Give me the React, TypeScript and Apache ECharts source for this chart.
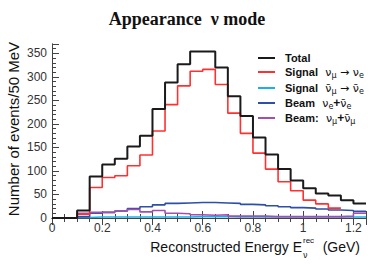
import React, { useEffect, useRef } from "react";
import * as echarts from "echarts";

// Left edges of the 50 MeV bins (GeV); the last bin ends at 1.25
const binLeftEdges = [0, 0.05, 0.1, 0.15, 0.2, 0.25, 0.3, 0.35, 0.4, 0.45, 0.5, 0.55, 0.6, 0.65, 0.7, 0.75, 0.8, 0.85, 0.9, 0.95, 1.0, 1.05, 1.1, 1.15, 1.2];
const lastEdge = 1.25;

const totalValues = [0, 0, 16, 88, 114, 126, 152, 175, 232, 288, 327, 354, 354, 320, 259, 217, 171, 135, 104, 80, 63, 52, 48, 38, 31];
const signalNuValues = [0, 0, 8, 65, 86, 90, 111, 134, 185, 241, 281, 312, 316, 284, 223, 180, 138, 104, 77, 58, 38, 30, 21];
const signalNuBarValues = [null, null, 1, 2, 2, 2, 2, 2, 2, 2, 2, 3, 3, 3, 2, 2, 2, 2, 2, 2, 2, 2, 2, 2, 2];
const beamNueValues = [0, 0, 3, 10, 12, 15, 20, 24, 28, 31, 32, 33, 33, 32, 31, 29, 28, 26, 24, 22, 21, 19, 17, 16, 14];
const beamNumuValues = [0, 0, 10, 12, 12, 15, 18, 13, 16, 10, 9, 7, 6, 7, 4, 4, 4, 3, 3, 3, 3, 3, 3, 4, 10];

const seriesNames = ["Total", "Signal νμ→νe", "Signal ν̄μ→ν̄e", "Beam νe+ν̄e", "Beam: νμ+ν̄μ"];
const seriesColors = ["#1a1a1a", "#ff3030", "#1ab0ea", "#2f4fa6", "#a24fb0"];
const legendLabels = [
  "{b|Total}",
  "{b|Signal} {g|ν}{s|μ}{g| → ν}{s|e}",
  "{b|Signal} {g|ν\u0304}{s|μ}{g| → ν\u0304}{s|e}",
  "{b|Beam} {g|ν}{s|e}{p|+}{g|ν\u0304}{s|e}",
  "{b|Beam:} {g|ν}{s|μ}{p|+}{g|ν\u0304}{s|μ}",
];

const xMin = 0;
const xMax = 1.25;
const yMin = 0;
const yMax = 370;

function stepPoints(values: (number | null)[]) {
  const pts: [number, number][] = [];
  let last: number | null = null;
  let lastIdx = -1;
  values.forEach((v, i) => {
    if (v === null || v === undefined) return;
    pts.push([binLeftEdges[i], v]);
    last = v;
    lastIdx = i;
  });
  if (last !== null) {
    const end = lastIdx + 1 < binLeftEdges.length ? binLeftEdges[lastIdx + 1] : lastEdge;
    pts.push([end, last]);
  }
  return pts;
}

export default function App() {
  const ref = useRef<HTMLDivElement>(null);
  useEffect(() => {
    if (!ref.current) return;
    const chart = echarts.init(ref.current, null, { renderer: "svg" });
    const allValues = [totalValues, signalNuValues, signalNuBarValues, beamNueValues, beamNumuValues];
    const widths = [2, 1.6, 1.6, 1.6, 1.6];
    const series: any[] = allValues.map((vals, i) => ({
      name: seriesNames[i],
      type: "line",
      step: "end",
      symbol: "none",
      data: stepPoints(vals as (number | null)[]),
      lineStyle: { color: seriesColors[i], width: widths[i] },
      z: 10 - i,
    }));
    series[4].z = 7;
    series[3].z = 6;
    series[2].z = 5;

    const sans = "Liberation Sans";
    const legendY = [58, 72, 88, 103, 118];
    const legendGraphics: any[] = [];
    legendY.forEach((y, i) => {
      legendGraphics.push({
        type: "line",
        shape: { x1: 258, y1: y, x2: 275, y2: y },
        style: { stroke: seriesColors[i], lineWidth: 2 },
      });
      legendGraphics.push({
        type: "text",
        x: 285,
        y: y,
        style: {
          text: legendLabels[i],
          verticalAlign: "middle",
          align: "left",
          rich: {
            b: { fontFamily: sans, fontWeight: "bold", fontSize: 11, fill: "#111", padding: [0, 4, 0, 0] },
            p: { fontFamily: sans, fontWeight: "bold", fontSize: 12, fill: "#111" },
            g: { fontFamily: "DejaVu Sans", fontSize: 11, fill: "#111" },
            s: { fontFamily: "DejaVu Sans", fontSize: 8, fill: "#111", padding: [6, 0, 0, 0] },
          },
        },
      });
    });

    const axisColor = "#444";
    chart.setOption({
      animation: false,
      title: {
        text: "Appearance  ν mode",
        left: "center",
        top: 5,
        textStyle: { fontFamily: "Liberation Serif", fontWeight: "bold", fontSize: 18, color: "#111" },
      },
      grid: { left: 52, right: 8, top: 44, bottom: 48, containLabel: false },
      xAxis: [
        {
          type: "value",
          min: xMin,
          max: xMax,
          interval: 0.2,
          position: "bottom",
          axisLine: { show: true, lineStyle: { color: axisColor, width: 1 } },
          axisTick: { show: true, inside: true, length: 7, lineStyle: { color: axisColor } },
          minorTick: { show: true, splitNumber: 4, length: 4, lineStyle: { color: axisColor } },
          axisLabel: { show: true, margin: 4, fontFamily: sans, fontSize: 12, color: "#333", showMaxLabel: false },
          splitLine: { show: false },
        },
        {
          type: "value",
          min: xMin,
          max: xMax,
          interval: 0.2,
          position: "top",
          axisLine: { show: true, lineStyle: { color: axisColor, width: 1 } },
          axisTick: { show: true, inside: true, length: 7, lineStyle: { color: axisColor } },
          minorTick: { show: true, splitNumber: 4, length: 4, lineStyle: { color: axisColor } },
          axisLabel: { show: false },
          splitLine: { show: false },
        },
      ],
      yAxis: [
        {
          type: "value",
          min: yMin,
          max: yMax,
          interval: 50,
          position: "left",
          axisLine: { show: true, lineStyle: { color: axisColor, width: 1 } },
          axisTick: { show: true, inside: true, length: 7, lineStyle: { color: axisColor } },
          minorTick: { show: true, splitNumber: 5, length: 4, lineStyle: { color: axisColor } },
          axisLabel: { show: true, margin: 5, fontFamily: sans, fontSize: 12, color: "#333", showMaxLabel: false },
          splitLine: { show: false },
        },
        {
          type: "value",
          min: yMin,
          max: yMax,
          position: "right",
          axisLine: { show: true, lineStyle: { color: axisColor, width: 1 } },
          axisTick: { show: false },
          axisLabel: { show: false },
          splitLine: { show: false },
        },
      ],
      series,
      graphic: [
        {
          type: "text",
          x: 13,
          y: 129,
          rotation: Math.PI / 2,
          style: {
            text: "Number of events/50 MeV",
            fontFamily: sans,
            fontSize: 15,
            fill: "#111",
            align: "center",
            verticalAlign: "middle",
          },
        },
        {
          type: "text",
          x: 302,
          y: 247,
          style: { text: "Reconstructed Energy E", fontFamily: sans, fontSize: 14, fill: "#111", align: "right", verticalAlign: "middle" },
        },
        {
          type: "text",
          x: 303,
          y: 240,
          style: { text: "rec", fontFamily: sans, fontSize: 8, fill: "#111", align: "left", verticalAlign: "middle" },
        },
        {
          type: "text",
          x: 303,
          y: 255,
          style: { text: "ν", fontFamily: "DejaVu Sans", fontSize: 8, fill: "#111", align: "left", verticalAlign: "middle" },
        },
        {
          type: "text",
          x: 360,
          y: 247,
          style: { text: "(GeV)", fontFamily: sans, fontSize: 14, fill: "#111", align: "right", verticalAlign: "middle" },
        },
        ...legendGraphics,
      ],
    });
    return () => chart.dispose();
  }, []);
  return <div ref={ref} style={{ width: 374, height: 266, position: "absolute", left: 0, top: 0 }} />;
}
